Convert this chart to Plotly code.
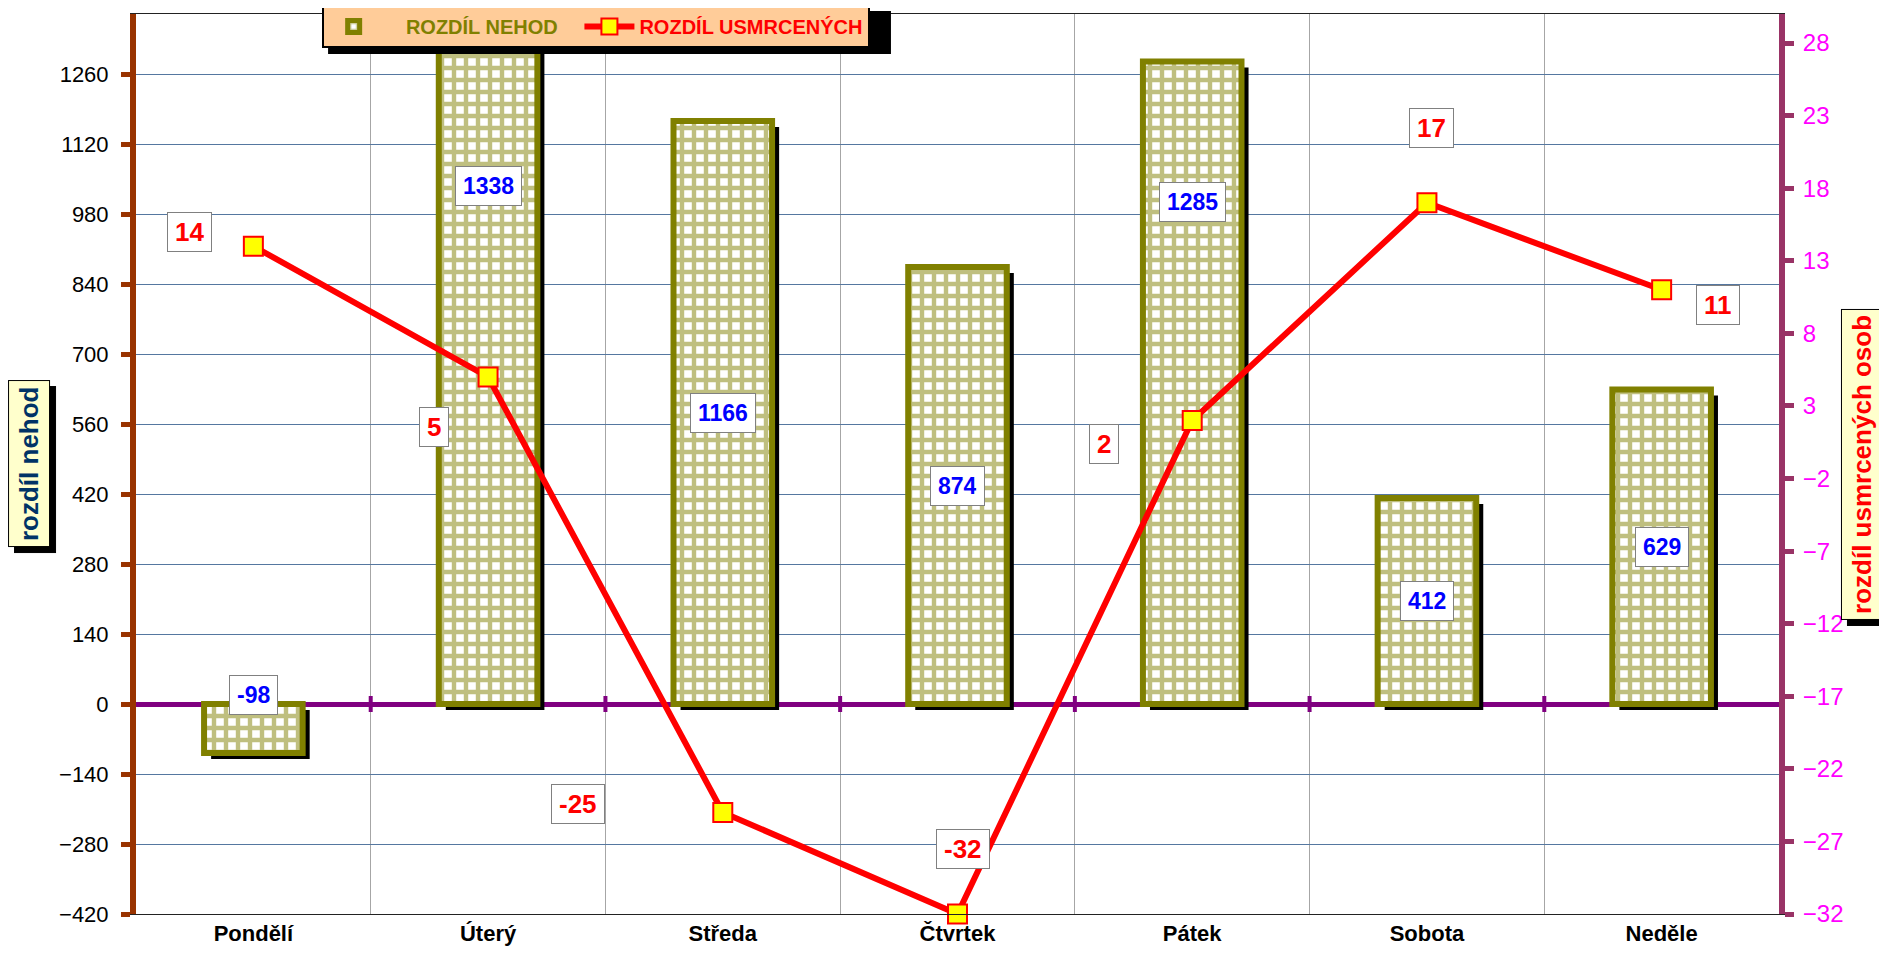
import plotly.graph_objects as go

days = ["Pondělí", "Úterý", "Středa", "Čtvrtek", "Pátek", "Sobota", "Neděle"]
nehody = [-98, 1338, 1166, 874, 1285, 412, 629]
usmrceni = [14, 5, -25, -32, 2, 17, 11]

left_ticks = list(range(-420, 1261, 140))
right_ticks = list(range(-32, 29, 5))

ARIAL = "Liberation Sans, Arial, sans-serif"
OLIVE = "#808000"
NBSP = "\u00a0"

bar_w = 0.42
shadow_dx = 0.03

# bar shadows (drawn first, shifted right and down)
shadow = go.Bar(x=days, y=nehody, base=-12, width=bar_w, offset=-bar_w / 2 + shadow_dx,
                marker=dict(color="black", line=dict(width=0)), showlegend=False, hoverinfo="skip")

bars = go.Bar(x=days, y=nehody, width=bar_w, offset=-bar_w / 2,
              name=NBSP * 4 + "<span style='color:#808000'>ROZDÍL NEHOD</span>" + NBSP * 3,
              marker=dict(color="white", line=dict(color=OLIVE, width=6),
                          pattern=dict(shape="+", fgcolor=OLIVE, bgcolor="white",
                                       size=12, solidity=0.6, fillmode="overlay")))

line = go.Scatter(x=days, y=usmrceni, yaxis="y2", mode="lines+markers",
                  name="<span style='color:#FF0000'>ROZDÍL USMRCENÝCH</span>",
                  line=dict(color="#FF0000", width=6),
                  marker=dict(symbol="square", size=19, color="#FFFF00",
                              line=dict(color="#FF0000", width=2)),
                  cliponaxis=False)

fig = go.Figure(data=[shadow, bars, line])

# page body adds 8px, so the figure is 8px smaller and margins are shifted
fig.update_layout(
    width=1879, height=960, autosize=False,
    margin=dict(l=128, r=108, t=6, b=54, autoexpand=False),
    plot_bgcolor="white", paper_bgcolor="white",
    barmode="overlay",
    font=dict(family=ARIAL, size=22, color="black"),
    showlegend=True,
    legend=dict(orientation="h", x=0.113, y=1.01, xanchor="left", yanchor="top",
                bgcolor="#FFCC99", bordercolor="black", borderwidth=2,
                font=dict(family=ARIAL, size=20, weight="bold"), itemwidth=50,
                traceorder="normal"),
)

fig.update_xaxes(type="category", tickson="boundaries", showgrid=True,
                 gridcolor="#A6A6A6", gridwidth=1, ticks="",
                 showline=True, linecolor="#222222", linewidth=1, mirror=True,
                 tickfont=dict(family=ARIAL, size=22, color="black", weight="bold"))

fig.update_yaxes(range=[-420, 1380], tickvals=left_ticks, showgrid=True,
                 gridcolor="#5577A0", gridwidth=1,
                 zeroline=True, zerolinecolor="#800080", zerolinewidth=5,
                 showline=True, linecolor="#993300", linewidth=6,
                 ticks="outside", ticklen=9, tickwidth=5, tickcolor="#993300",
                 ticklabelstandoff=8,
                 tickfont=dict(family=ARIAL, size=22, color="black"),
                 layer="above traces")

fig.update_layout(yaxis2=dict(overlaying="y", side="right", range=[-32, 30],
                              tickvals=right_ticks, showgrid=False, zeroline=False,
                              showline=True, linecolor="#993366", linewidth=6,
                              ticks="outside", ticklen=9, tickwidth=5, tickcolor="#993366",
                              ticklabelstandoff=4,
                              tickfont=dict(family=ARIAL, size=24, color="#FF00FF")))

# small boundary ticks on the zero line
for i in range(1, len(days)):
    fig.add_shape(type="line", xref="x", yref="y", x0=i - 0.5, x1=i - 0.5,
                  ysizemode="pixel", yanchor=0, y0=-8, y1=8,
                  line=dict(color="#800080", width=4))

# legend shadow
fig.add_shape(type="rect", xref="paper", yref="paper", x0=0.1169, x1=0.4595,
              y0=0.9556, y1=1.0033, fillcolor="black", line=dict(width=0), layer="above")

# bar value labels
bar_label_shift = [34, 184, 0, 0, 181, 0, 0]
for d, v, s in zip(days, nehody, bar_label_shift):
    fig.add_annotation(x=d, y=v / 2, xref="x", yref="y", text=str(v), showarrow=False,
                       yshift=s, font=dict(family=ARIAL, size=23, color="#0000FF", weight="bold"),
                       bgcolor="white", bordercolor="#808080", borderwidth=1, borderpad=7,
                       height=24)

# line value labels
line_label_off = [(-64, -14), (-54, 50), (-145, -8), (5, -65), (-88, 24), (5, -75), (56, 15)]
for d, v, (dx, dy) in zip(days, usmrceni, line_label_off):
    fig.add_annotation(x=d, y=v, xref="x", yref="y2", text=str(v), showarrow=True,
                       ax=dx, ay=dy, arrowcolor="rgba(0,0,0,0)", arrowwidth=0.1,
                       font=dict(family=ARIAL, size=26, color="#FF0000", weight="bold"),
                       bgcolor="white", bordercolor="#808080", borderwidth=1, borderpad=7,
                       height=24)

# axis titles in yellow boxes with shadows
def boxed_title(text, x, color):
    common = dict(x=x, y=0.50, xref="paper", yref="paper", text=text, textangle=-90,
                  showarrow=False, xanchor="center", yanchor="middle", borderwidth=1, borderpad=5)
    fig.add_annotation(**common, xshift=6, yshift=-6,
                       font=dict(family=ARIAL, size=26, color="black", weight="bold"),
                       bgcolor="black", bordercolor="black")
    fig.add_annotation(**common,
                       font=dict(family=ARIAL, size=26, color=color, weight="bold"),
                       bgcolor="#FFFFCC", bordercolor="black")

boxed_title("rozdíl nehod", -0.0651, "#003366")
boxed_title("rozdíl usmrcených osob", 1.0505, "#FF0000")

fig.write_html("out.html")
